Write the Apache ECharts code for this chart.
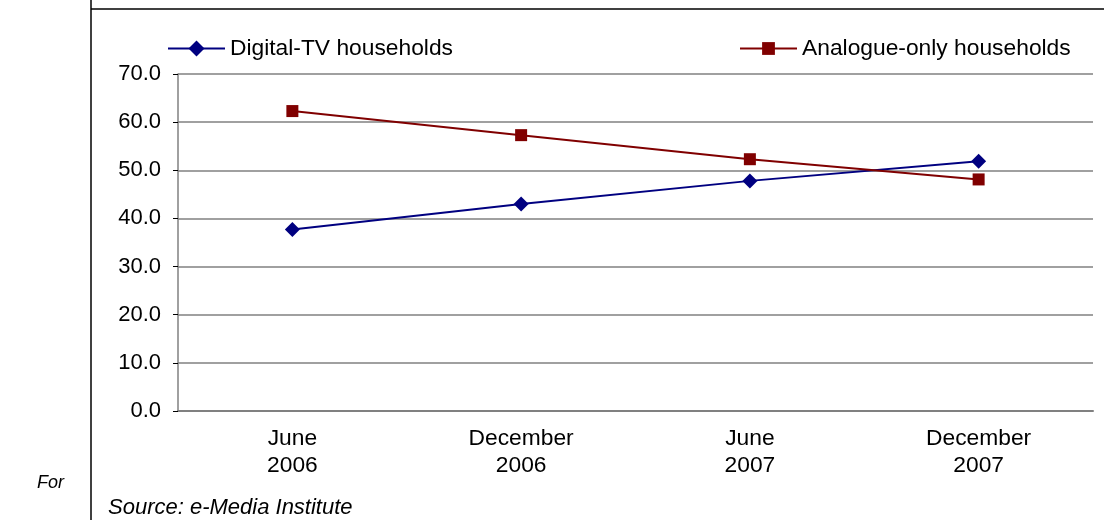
<!DOCTYPE html>
<html>
<head>
<meta charset="utf-8">
<script src="https://cdn.jsdelivr.net/npm/echarts@6/dist/echarts.min.js"></script>
<style>
html,body{margin:0;padding:0;background:#fff;}
#c{width:1104px;height:520px;}
</style>
</head>
<body>
<div id="c"></div>
<script>
const categories = ['June\n2006', 'December\n2006', 'June\n2007', 'December\n2007'];
const digitalTV = [37.7, 43.0, 47.8, 51.9];
const analogueOnly = [62.3, 57.3, 52.3, 48.1];
const seriesNames = ['Digital-TV households', 'Analogue-only households'];
const yTicks = [0, 10, 20, 30, 40, 50, 60, 70];

const FONT = 'Liberation Sans, Arial, sans-serif';
const chart = echarts.init(document.getElementById('c'), null, {renderer: 'canvas'});
chart.setOption({
  animation: false,
  backgroundColor: '#fff',
  textStyle: {fontFamily: FONT},
  grid: {left: 178, right: 11, top: 74, bottom: 109, containLabel: false},
  legend: [
    {data: [seriesNames[0]], left: 162, top: 32, itemWidth: 57, itemHeight: 20,
     textStyle: {fontFamily: FONT, fontSize: 22.8, color: '#000'}},
    {data: [seriesNames[1]], left: 734, top: 32, itemWidth: 57, itemHeight: 16,
     textStyle: {fontFamily: FONT, fontSize: 22.8, color: '#000'}}
  ],
  xAxis: {
    type: 'category',
    data: categories,
    boundaryGap: true,
    axisLine: {lineStyle: {color: '#808080', width: 2}},
    axisTick: {alignWithLabel: true, length: 5, lineStyle: {color: '#000', width: 1}},
    axisLabel: {fontFamily: FONT, fontSize: 22.8, color: '#000', margin: 14, lineHeight: 27}
  },
  yAxis: {
    type: 'value',
    min: yTicks[0],
    max: yTicks[yTicks.length - 1],
    interval: 10,
    axisLine: {show: true, lineStyle: {color: '#808080', width: 1.5}},
    axisTick: {show: true, length: 5, lineStyle: {color: '#000', width: 1}},
    splitLine: {show: true, lineStyle: {color: '#808080', width: 1.5}},
    axisLabel: {fontFamily: FONT, fontSize: 22, color: '#000', margin: 17,
                formatter: v => v.toFixed(1)}
  },
  series: [
    {name: seriesNames[0], type: 'line', data: digitalTV,
     symbol: 'diamond', symbolSize: 15,
     itemStyle: {color: '#000080'},
     lineStyle: {color: '#000080', width: 2}},
    {name: seriesNames[1], type: 'line', data: analogueOnly,
     symbol: 'rect', symbolSize: 12,
     itemStyle: {color: '#800000'},
     lineStyle: {color: '#800000', width: 2}}
  ],
  graphic: [
    {type: 'line', shape: {x1: 91, y1: 0, x2: 91, y2: 520}, style: {stroke: '#000', lineWidth: 1.5}, z: 10},
    {type: 'line', shape: {x1: 91, y1: 9, x2: 1104, y2: 9}, style: {stroke: '#000', lineWidth: 1.5}, z: 10},
    {type: 'text', left: 108, top: 497, style: {text: 'Source: e-Media Institute', fontFamily: FONT, fontSize: 22, fontStyle: 'italic', fill: '#000'}},
    {type: 'text', left: 37, top: 474, style: {text: 'For', fontFamily: FONT, fontSize: 18, fontStyle: 'italic', fill: '#000'}}
  ]
});
</script>
</body>
</html>
